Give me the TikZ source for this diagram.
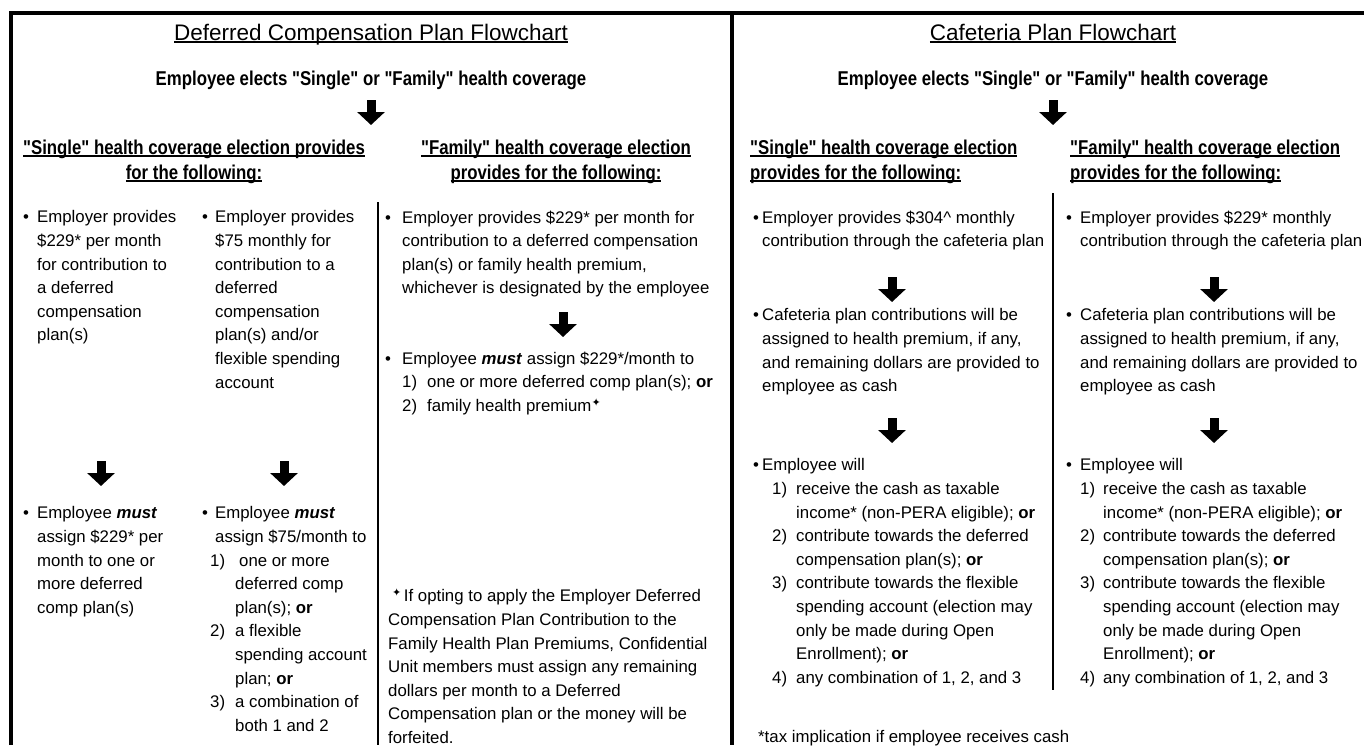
\documentclass[tikz,border=0pt]{standalone}
\usepackage{fontspec}
\setmainfont{Liberation Sans}
\newfontfamily\narrowb[FakeStretch=0.84]{Liberation Sans}
\newfontfamily\symf{DejaVu Sans}
\usetikzlibrary{arrows.meta}
\newcommand{\bl}[1]{\makebox[#1][l]{\textbullet}}
\newcommand{\nm}[2]{\makebox[#1][l]{#2}}
\newcommand{\undl}[1]{\setbox0=\hbox{#1}\rlap{\rule[-2.6pt]{\wd0}{1.4pt}}\box0}
\newcommand{\dg}{\raisebox{5pt}{\symf\fontsize{11}{11}\selectfont ✦}}
\tikzset{
  txt/.style={font=\fontsize{16.8}{23.6}\selectfont, align=left, inner sep=0pt, anchor=north west},
  ttl/.style={font=\fontsize{22.5}{26}\selectfont, inner sep=0pt, anchor=base},
  hd/.style={font=\narrowb\bfseries\fontsize{20}{25}\selectfont, inner sep=0pt},
  blk/.style={line width=9pt, -{Triangle[width=27pt,length=13pt]}},
  boxline/.style={line width=3.8pt},
  sepline/.style={line width=1.8pt},
}
\begin{document}
\begin{tikzpicture}[x=1pt, y=-1pt]
\useasboundingbox [fill=white] (0,0) rectangle (1364,745);

\draw [boxline] (11,745) -- (11,13) -- (1364,13);
\draw [boxline] (732,13) -- (732,745);
\draw [sepline] (378,202) -- (378,745);
\draw [sepline] (1053,193) -- (1053,690);

\node [ttl] (t1) at (371,40) {\undl{Deferred Compensation Plan Flowchart}};
\node [hd, anchor=base] (el1) at (371,85) {Employee elects "Single" or "Family" health coverage};
\node [hd, anchor=north, align=center] (hs1) at (194,139.5) {\undl{"Single" health coverage election provides}\\\undl{for the following:}};
\node [hd, anchor=north, align=center] (hf1) at (556,139.5) {\undl{"Family" health coverage election}\\\undl{provides for the following:}};

\node [txt] (s1a) at (23,210.5) {\bl{14pt}Employer provides\\
\hspace*{14pt}\$229* per month\\
\hspace*{14pt}for contribution to\\
\hspace*{14pt}a deferred\\
\hspace*{14pt}compensation\\
\hspace*{14pt}plan(s)};
\node [txt] (s2a) at (202,210.5) {\bl{13pt}Employer provides\\
\hspace*{13pt}\$75 monthly for\\
\hspace*{13pt}contribution to a\\
\hspace*{13pt}deferred\\
\hspace*{13pt}compensation\\
\hspace*{13pt}plan(s) and/or\\
\hspace*{13pt}flexible spending\\
\hspace*{13pt}account};
\node [txt] (s1b) at (23,506.5) {\bl{14pt}Employee \textbf{\textit{must}}\\
\hspace*{14pt}assign \$229* per\\
\hspace*{14pt}month to one or\\
\hspace*{14pt}more deferred\\
\hspace*{14pt}comp plan(s)};
\node [txt] (s2b) at (202,506.5) {\bl{13pt}Employee \textbf{\textit{must}}\\
\hspace*{13pt}assign \$75/month to\\
\hspace*{8pt}\nm{25pt}{1)}\hspace{4pt}one or more\\
\hspace*{33pt}deferred comp\\
\hspace*{33pt}plan(s); \textbf{or}\\
\hspace*{8pt}\nm{25pt}{2)}a flexible\\
\hspace*{33pt}spending account\\
\hspace*{33pt}plan; \textbf{or}\\
\hspace*{8pt}\nm{25pt}{3)}a combination of\\
\hspace*{33pt}both 1 and 2};

\node [txt] (f1) at (385,210.5) {\bl{17pt}Employer provides \$229* per month for\\
\hspace*{17pt}contribution to a deferred compensation\\
\hspace*{17pt}plan(s) or family health premium,\\
\hspace*{17pt}whichever is designated by the employee};
\node [txt] (f2) at (385,351.5) {\bl{17pt}Employee \textbf{\textit{must}} assign \$229*/month to\\
\hspace*{17pt}\nm{25pt}{1)}one or more deferred comp plan(s); \textbf{or}\\
\hspace*{17pt}\nm{25pt}{2)}family health premium\dg};
\node [txt] (fn) at (388,588.5) {\hspace*{4pt}\dg\hspace{2.5pt}If opting to apply the Employer Deferred\\
Compensation Plan Contribution to the\\
Family Health Plan Premiums, Confidential\\
Unit members must assign any remaining\\
dollars per month to a Deferred\\
Compensation plan or the money will be\\
forfeited.};

\coordinate (a1) at (371,100);
\coordinate (a1e) at (371,125);
\coordinate (a2) at (101,461);
\coordinate (a2e) at (101,486);
\coordinate (a3) at (284,461);
\coordinate (a3e) at (284,486);
\coordinate (a4) at (563,312);
\coordinate (a4e) at (563,337);
\draw [blk] (a1) -- (a1e);
\draw [blk] (a2) -- (a2e);
\draw [blk] (a3) -- (a3e);
\draw [blk] (a4) -- (a4e);

\node [ttl] (t2) at (1053,40) {\undl{Cafeteria Plan Flowchart}};
\node [hd, anchor=base] (el2) at (1053,85) {Employee elects "Single" or "Family" health coverage};
\node [hd, anchor=north west, align=left] (hs2) at (750,139.5) {\undl{"Single" health coverage election}\\\undl{provides for the following:}};
\node [hd, anchor=north west, align=left] (hf2) at (1070,139.5) {\undl{"Family" health coverage election}\\\undl{provides for the following:}};

\node [txt] (c1) at (753,210.5) {\bl{9pt}Employer provides \$304\textasciicircum{} monthly\\
\hspace*{9pt}contribution through the cafeteria plan};
\node [txt] (c2) at (753,308.5) {\bl{9pt}Cafeteria plan contributions will be\\
\hspace*{9pt}assigned to health premium, if any,\\
\hspace*{9pt}and remaining dollars are provided to\\
\hspace*{9pt}employee as cash};
\node [txt] (c3) at (753,458.5) {\bl{9pt}Employee will\\
\hspace*{19pt}\nm{24pt}{1)}receive the cash as taxable\\
\hspace*{43pt}income* (non-PERA eligible); \textbf{or}\\
\hspace*{19pt}\nm{24pt}{2)}contribute towards the deferred\\
\hspace*{43pt}compensation plan(s); \textbf{or}\\
\hspace*{19pt}\nm{24pt}{3)}contribute towards the flexible\\
\hspace*{43pt}spending account (election may\\
\hspace*{43pt}only be made during Open\\
\hspace*{43pt}Enrollment); \textbf{or}\\
\hspace*{19pt}\nm{24pt}{4)}any combination of 1, 2, and 3};
\node [txt] (tax) at (758,730.5) {*tax implication if employee receives cash};

\node [txt] (d1) at (1066,210.5) {\bl{14pt}Employer provides \$229* monthly\\
\hspace*{14pt}contribution through the cafeteria plan};
\node [txt] (d2) at (1066,308.5) {\bl{14pt}Cafeteria plan contributions will be\\
\hspace*{14pt}assigned to health premium, if any,\\
\hspace*{14pt}and remaining dollars are provided to\\
\hspace*{14pt}employee as cash};
\node [txt] (d3) at (1066,458.5) {\bl{14pt}Employee will\\
\hspace*{14pt}\nm{23pt}{1)}receive the cash as taxable\\
\hspace*{37pt}income* (non-PERA eligible); \textbf{or}\\
\hspace*{14pt}\nm{23pt}{2)}contribute towards the deferred\\
\hspace*{37pt}compensation plan(s); \textbf{or}\\
\hspace*{14pt}\nm{23pt}{3)}contribute towards the flexible\\
\hspace*{37pt}spending account (election may\\
\hspace*{37pt}only be made during Open\\
\hspace*{37pt}Enrollment); \textbf{or}\\
\hspace*{14pt}\nm{23pt}{4)}any combination of 1, 2, and 3};

\coordinate (b1) at (1053,100);
\coordinate (b1e) at (1053,125);
\coordinate (b2) at (892,277);
\coordinate (b2e) at (892,302);
\coordinate (b3) at (892,418);
\coordinate (b3e) at (892,443);
\coordinate (b4) at (1214,277);
\coordinate (b4e) at (1214,302);
\coordinate (b5) at (1214,418);
\coordinate (b5e) at (1214,443);
\draw [blk] (b1) -- (b1e);
\draw [blk] (b2) -- (b2e);
\draw [blk] (b3) -- (b3e);
\draw [blk] (b4) -- (b4e);
\draw [blk] (b5) -- (b5e);
\end{tikzpicture}
\end{document}
